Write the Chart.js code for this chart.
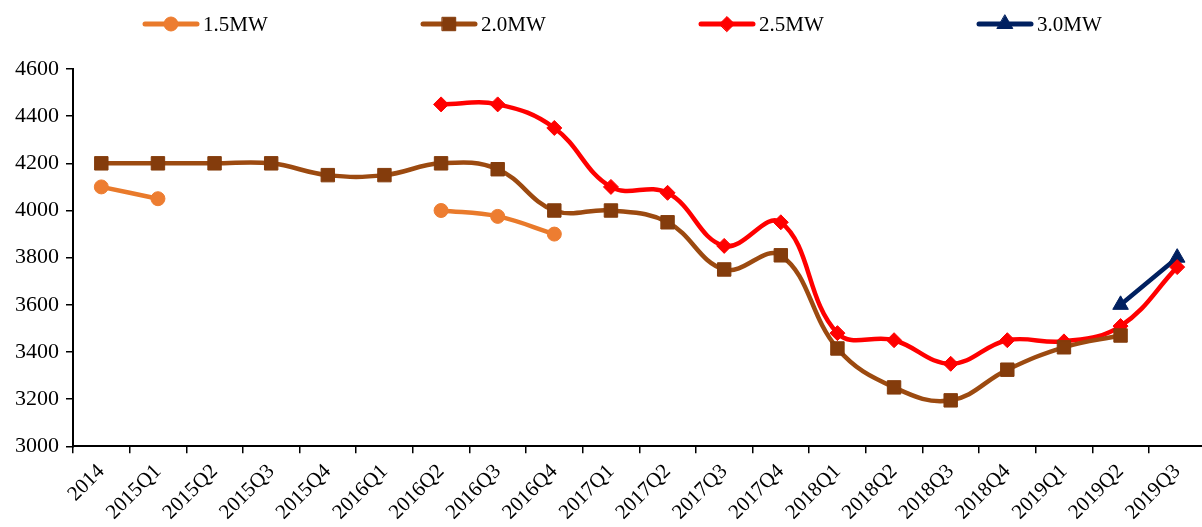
<!DOCTYPE html>
<html>
<head>
<meta charset="utf-8">
<script src="https://cdn.jsdelivr.net/npm/chart.js@4"></script>
<style>
  body { margin: 0; overflow: hidden; background: #fff; }
  #wrap { width: 1216px; height: 531px; position: relative; }
</style>
</head>
<body>
<div id="wrap"><canvas id="priceChart"></canvas></div>
<script>
// categories (quarters)
const quarters = ['2014', '2015Q1', '2015Q2', '2015Q3', '2015Q4', '2016Q1', '2016Q2', '2016Q3', '2016Q4',
  '2017Q1', '2017Q2', '2017Q3', '2017Q4', '2018Q1', '2018Q2', '2018Q3', '2018Q4', '2019Q1', '2019Q2', '2019Q3'];

// series values (null = no data)
const mw15 = [4100, 4050, null, null, null, null, 4000, 3975, 3900, null, null, null, null, null, null, null, null, null, null, null];
const mw20 = [4200, 4200, 4200, 4200, 4150, 4150, 4200, 4175, 4000, 4000, 3950, 3750, 3810, 3415, 3250, 3195, 3325, 3420, 3470, null];
const mw25 = [null, null, null, null, null, null, 4450, 4450, 4350, 4100, 4075, 3850, 3950, 3480, 3450, 3350, 3450, 3445, 3510, 3760];
const mw30 = [null, null, null, null, null, null, null, null, null, null, null, null, null, null, null, null, null, null, 3600, 3800];

const yTicks = [3000, 3200, 3400, 3600, 3800, 4000, 4200, 4400, 4600];

const fontFamily = '"Liberation Serif", "DejaVu Serif", serif';

function series(label, data, lineColor, markColor, style, radius) {
  return {
    label: label,
    data: data,
    borderColor: lineColor,
    backgroundColor: markColor,
    pointBackgroundColor: markColor,
    pointBorderColor: markColor,
    pointStyle: style,
    pointRadius: radius,
    pointBorderWidth: 1,
    borderWidth: 4.5,
    tension: 0.4,
    spanGaps: false,
    markColor: markColor
  };
}

// own legend: line + marker sample, then the label, items spread across the top
const lineLegend = {
  id: 'lineLegend',
  afterDraw(chart) {
    const ctx = chart.ctx;
    const sets = chart.data.datasets;
    const step = 278;
    const first = 171;
    const y = 24;
    ctx.save();
    ctx.font = '21px ' + fontFamily;
    ctx.textBaseline = 'middle';
    sets.forEach((ds, i) => {
      const x = first + i * step;
      ctx.strokeStyle = ds.borderColor;
      ctx.lineWidth = 5;
      ctx.lineCap = 'round';
      ctx.beginPath();
      ctx.moveTo(x - 26, y);
      ctx.lineTo(x + 26, y);
      ctx.stroke();
      ctx.fillStyle = ds.markColor;
      ctx.strokeStyle = ds.markColor;
      ctx.lineWidth = 1;
      Chart.helpers.drawPoint(ctx, { pointStyle: ds.pointStyle, radius: ds.pointRadius, rotation: 0, borderWidth: 1 }, x, y);
      ctx.fillStyle = '#000';
      ctx.textAlign = 'left';
      ctx.fillText(ds.label, x + 32, y + 1);
    });
    ctx.restore();
  }
};

new Chart(document.getElementById('priceChart'), {
  type: 'line',
  data: {
    labels: quarters,
    datasets: [
      series('1.5MW', mw15, '#E97A2B', '#ED7D31', 'circle', 7),
      series('2.0MW', mw20, '#9C4A10', '#843C0C', 'rect', 9.5),
      series('2.5MW', mw25, '#FF0000', '#FF0000', 'rectRot', 7.5),
      series('3.0MW', mw30, '#002060', '#002060', 'triangle', 9)
    ]
  },
  options: {
    responsive: true,
    maintainAspectRatio: false,
    animation: false,
    layout: { padding: { left: 8, right: 2, top: 69, bottom: 0 } },
    plugins: {
      tooltip: { enabled: false },
      legend: { display: false }
    },
    scales: {
      x: {
        offset: true,
        grid: { display: true, drawOnChartArea: false, offset: true, tickLength: 7, color: '#000', lineWidth: 1.5 },
        border: { display: true, color: '#000', width: 2 },
        ticks: {
          color: '#000',
          font: { family: fontFamily, size: 21 },
          maxRotation: 45,
          minRotation: 45,
          autoSkip: false,
          padding: 6
        }
      },
      y: {
        min: 3000,
        max: 4600,
        afterBuildTicks(axis) {
          axis.ticks = yTicks.map(v => ({ value: v }));
        },
        grid: { display: true, drawOnChartArea: false, tickLength: 7, color: '#000', lineWidth: 1.5 },
        border: { display: true, color: '#000', width: 2 },
        ticks: {
          color: '#000',
          font: { family: fontFamily, size: 22 },
          padding: 7,
          callback: v => String(v)
        }
      }
    }
  },
  plugins: [lineLegend]
});
</script>
</body>
</html>
